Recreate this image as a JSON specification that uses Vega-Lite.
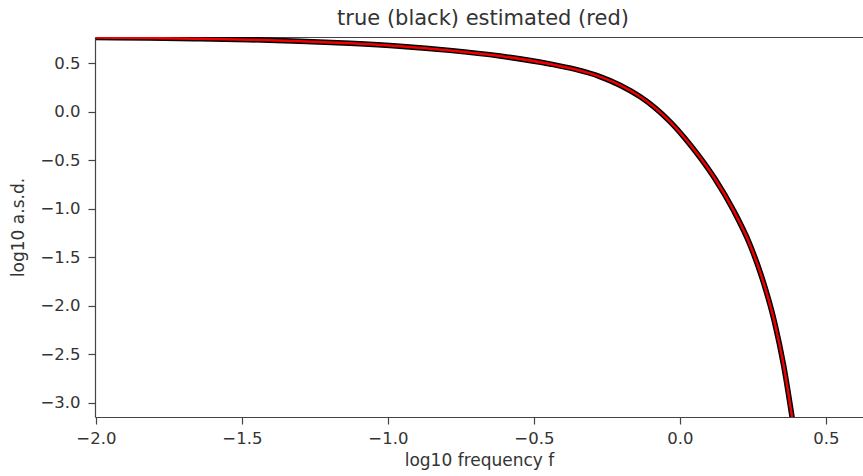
{
  "$schema": "https://vega.github.io/schema/vega-lite/v6.json",
  "width": 768,
  "height": 380,
  "autosize": {"type": "none"},
  "padding": {"left": 95, "top": 37, "right": 0, "bottom": 59},
  "background": "white",
  "config": {
    "font": "DejaVu Sans",
    "view": {"stroke": null},
    "axis": {
      "domainColor": "#444",
      "domainWidth": 1.2,
      "tickColor": "#444",
      "tickWidth": 1.2,
      "tickSize": 7,
      "labelColor": "#333",
      "labelFont": "DejaVu Sans",
      "labelFontSize": 16.5,
      "labelFlush": false,
      "labelOverlap": false,
      "titleFont": "DejaVu Sans",
      "titleFontSize": 17,
      "titleFontWeight": "normal",
      "titleColor": "#333",
      "grid": false
    },
    "title": {"font": "DejaVu Sans", "fontSize": 21, "fontWeight": "normal", "color": "#333", "offset": 8, "dx": 4}
  },
  "title": "true (black) estimated (red)",
  "data": {
    "values": [
      {"f": -2.0, "true": 0.765, "est": 0.765},
      {"f": -1.815, "true": 0.76, "est": 0.76},
      {"f": -1.644, "true": 0.753, "est": 0.753},
      {"f": -1.473, "true": 0.743, "est": 0.743},
      {"f": -1.301, "true": 0.728, "est": 0.728},
      {"f": -1.13, "true": 0.706, "est": 0.706},
      {"f": -0.959, "true": 0.676, "est": 0.676},
      {"f": -0.788, "true": 0.633, "est": 0.633},
      {"f": -0.616, "true": 0.575, "est": 0.575},
      {"f": -0.445, "true": 0.493, "est": 0.493},
      {"f": -0.36, "true": 0.439, "est": 0.439},
      {"f": -0.274, "true": 0.363, "est": 0.363},
      {"f": -0.205, "true": 0.274, "est": 0.274},
      {"f": -0.137, "true": 0.157, "est": 0.157},
      {"f": -0.086, "true": 0.043, "est": 0.043},
      {"f": -0.034, "true": -0.101, "est": -0.101},
      {"f": 0.017, "true": -0.272, "est": -0.272},
      {"f": 0.068, "true": -0.467, "est": -0.467},
      {"f": 0.12, "true": -0.69, "est": -0.69},
      {"f": 0.182, "true": -1.007, "est": -1.007},
      {"f": 0.24, "true": -1.37, "est": -1.37},
      {"f": 0.281, "true": -1.71, "est": -1.71},
      {"f": 0.325, "true": -2.18, "est": -2.18},
      {"f": 0.355, "true": -2.61, "est": -2.61},
      {"f": 0.384, "true": -3.146, "est": -3.146},
      {"f": 0.41, "true": -3.67, "est": -3.67}
    ]
  },
  "layer": [
    {
      "mark": {"type": "line", "color": "black", "strokeWidth": 5.5, "clip": true, "interpolate": "monotone"},
      "encoding": {
        "x": {
          "field": "f", "type": "quantitative",
          "scale": {"domain": [-2.003, 0.627], "nice": false, "zero": false},
          "axis": {
            "title": "log10 frequency f",
            "values": [-2, -1.5, -1, -0.5, 0, 0.5],
            "labelExpr": "replace(format(datum.value, '.1f'), '-', '−')",
            "labelPadding": 6,
            "titlePadding": 6
          }
        },
        "y": {
          "field": "true", "type": "quantitative",
          "scale": {"domain": [-3.146, 0.771], "nice": false, "zero": false},
          "axis": {
            "title": "log10 a.s.d.",
            "values": [-3, -2.5, -2, -1.5, -1, -0.5, 0, 0.5],
            "labelExpr": "replace(format(datum.value, '.1f'), '-', '−')",
            "labelPadding": 8,
            "titlePadding": 12
          }
        }
      }
    },
    {
      "mark": {"type": "line", "color": "#ee0000", "strokeWidth": 2.5, "clip": true, "interpolate": "monotone"},
      "encoding": {
        "x": {
          "field": "f", "type": "quantitative",
          "scale": {"domain": [-2.003, 0.627], "nice": false, "zero": false},
          "axis": {"orient": "top", "labels": false, "ticks": false, "title": null, "domain": true}
        },
        "y": {"field": "est", "type": "quantitative"}
      }
    }
  ],
  "resolve": {"axis": {"x": "independent"}}
}
